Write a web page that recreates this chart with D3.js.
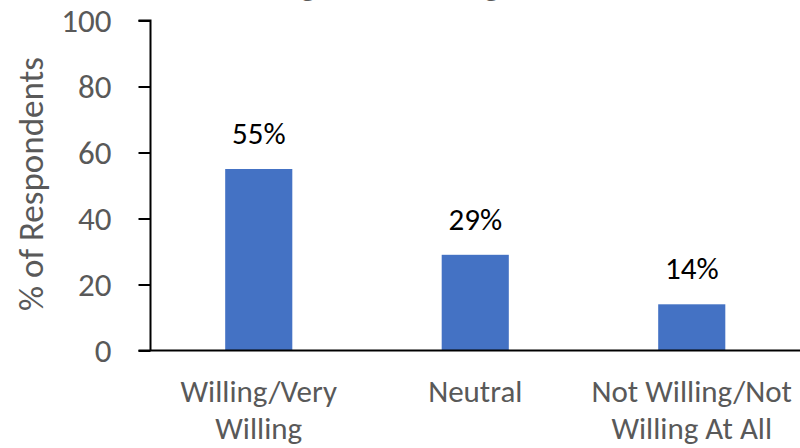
<!DOCTYPE html>
<html>
<head>
<meta charset="utf-8">
<script src="https://cdn.jsdelivr.net/npm/d3@7"></script>
<style>
  html, body { margin: 0; padding: 0; background: #fff; }
  svg { display: block; }
  text { font-family: Carlito, Lato, "Open Sans", sans-serif; }
</style>
</head>
<body>
<svg id="chart" width="800" height="448"></svg>
<script>
// Survey responses (% of respondents)
const categories = [["Willing/Very", "Willing"], ["Neutral"], ["Not Willing/Not", "Willing At All"]];
const values = [55, 29, 14];
const valueLabels = ["55%", "29%", "14%"];
const yTicks = [0, 20, 40, 60, 80, 100];
const chartTitle = "Willingness to Change Diet";
const yTitle = "% of Respondents";

const svg = d3.select("#chart");
const margin = { left: 150.5, right: 0, top: 20.5, bottom: 97.5 };
const W = 800, H = 448;

const x = d3.scaleBand()
  .domain(d3.range(values.length))
  .range([margin.left, W - margin.right])
  .padding(0);
const y = d3.scaleLinear().domain([0, 100]).range([H - margin.bottom, margin.top]);

const barW = x.bandwidth() * 0.31;
const grey = "#595959";

// chart title, set high so only its lower part shows
svg.append("text")
  .attr("x", 400).attr("y", -4)
  .attr("text-anchor", "middle")
  .attr("font-size", 32).attr("font-weight", "bold")
  .attr("fill", grey)
  .text(chartTitle);

// y axis
const yAxis = d3.axisLeft(y).tickValues(yTicks).tickSize(12).tickPadding(27);
const gy = svg.append("g").attr("transform", `translate(${margin.left},0)`).call(yAxis);
gy.select(".domain").attr("stroke", "#000").attr("stroke-width", 2).attr("d", `M-12,${y(100)}H0V${y(0)}`);
gy.selectAll(".tick line").attr("stroke", "#000").attr("stroke-width", 2);
gy.selectAll(".tick text").attr("font-size", 33).attr("fill", grey)
  .attr("font-family", "Carlito, Lato, 'Open Sans', sans-serif");

// bars
svg.append("g").selectAll("rect").data(values).join("rect")
  .attr("x", (d, i) => x(i) + (x.bandwidth() - barW) / 2)
  .attr("width", barW)
  .attr("y", d => y(d))
  .attr("height", d => y(0) - y(d))
  .attr("fill", "#4472C4");

// x axis baseline
svg.append("line")
  .attr("x1", margin.left - 12).attr("x2", W)
  .attr("y1", y(0)).attr("y2", y(0))
  .attr("stroke", "#000").attr("stroke-width", 2);

// value labels
svg.append("g").selectAll("text").data(values).join("text")
  .attr("x", (d, i) => x(i) + x.bandwidth() / 2)
  .attr("y", d => y(d) - 25)
  .attr("text-anchor", "middle")
  .attr("font-size", 31).attr("fill", "#000")
  .text((d, i) => valueLabels[i]);

// category labels
const cat = svg.append("g").selectAll("text").data(categories).join("text")
  .attr("x", (d, i) => x(i) + x.bandwidth() / 2)
  .attr("y", 402)
  .attr("text-anchor", "middle")
  .attr("font-size", 31).attr("fill", grey);
cat.selectAll("tspan").data(d => d).join("tspan")
  .attr("x", function () { return this.parentNode.getAttribute("x"); })
  .attr("dy", (d, i) => i === 0 ? 0 : 37)
  .text(d => d);

// y axis title
svg.append("text")
  .attr("transform", `translate(43,184) rotate(-90)`)
  .attr("text-anchor", "middle")
  .attr("font-size", 35).attr("fill", grey)
  .text(yTitle);
</script>
</body>
</html>
